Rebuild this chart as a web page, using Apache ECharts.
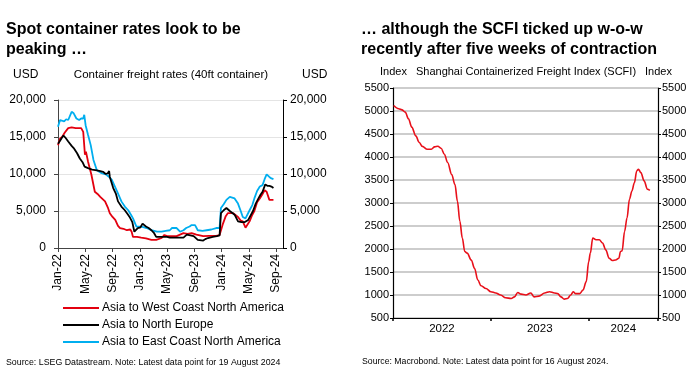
<!DOCTYPE html>
<html>
<head>
<meta charset="utf-8">
<script src="https://cdn.jsdelivr.net/npm/echarts@6/dist/echarts.min.js"></script>
<style>
html,body{margin:0;padding:0;background:#fff;}
#c{width:696px;height:390px;}
</style>
</head>
<body>
<div id="c"></div>
<script>
// ---------- DATA ----------
// Left chart: x = months since Jan 2022, y = USD per 40ft container
const dateTickLabels = ['Jan-22','May-22','Sep-22','Jan-23','May-23','Sep-23','Jan-24','May-24','Sep-24'];
const usdTicks = [0, 5000, 10000, 15000, 20000];
const seriesNames = ['Asia to West Coast North America','Asia to North Europe','Asia to East Coast North America'];

const westCoast = [[0,13900],[0.3,14800],[0.6,15000],[1.0,15600],[1.5,16200],[2.0,16300],[2.6,16200],[3.4,16200],[3.7,15700],[3.95,12600],[4.1,13000],[4.4,11700],[4.9,9900],[5.4,7600],[5.8,7300],[6.2,6900],[6.9,6300],[7.3,5500],[7.6,4700],[8.0,4200],[8.4,3800],[8.8,3000],[9.1,2700],[9.6,2600],[10.1,2400],[10.6,2500],[10.8,2200],[11.0,1500],[11.6,1500],[12.2,1400],[12.9,1300],[13.7,1100],[14.4,1100],[15.2,1350],[15.6,1760],[16.0,1600],[16.4,1600],[17.4,1600],[18.4,2000],[19.0,1900],[19.6,2000],[20.3,1800],[20.8,1700],[21.3,1600],[22.2,1650],[23.2,1650],[23.7,1750],[24.2,3300],[24.6,4300],[24.9,4700],[25.7,4700],[26.4,4200],[26.8,3700],[27.1,3600],[27.5,2750],[28.1,3600],[28.5,4500],[28.8,5000],[29.2,6200],[29.6,6700],[30.0,7300],[30.3,7800],[30.6,7600],[31.0,6500],[31.3,6500],[31.6,6500]];

const northEurope = [[0,14100],[0.3,14500],[0.5,14800],[0.8,15200],[1.1,14900],[1.5,14400],[2.0,13800],[2.3,13500],[2.8,12800],[3.2,12100],[3.6,11600],[3.9,11000],[4.4,10800],[5.0,10600],[5.7,10500],[6.2,10400],[6.6,10300],[7.0,10000],[7.3,10100],[7.5,10400],[7.6,9600],[8.1,8100],[8.5,7300],[8.8,6300],[9.3,5600],[9.8,5100],[10.2,4600],[10.5,4200],[10.9,3500],[11.2,2200],[11.7,2700],[12.1,2800],[12.4,3300],[12.6,3300],[12.9,2900],[13.3,2700],[13.7,2400],[14.1,2000],[14.4,1500],[15.2,1500],[16.0,1500],[16.4,1400],[17.5,1400],[18.4,1400],[18.9,1800],[19.9,1600],[20.5,1100],[21.3,1000],[21.6,1200],[22.0,1350],[22.7,1500],[23.3,1600],[23.7,1700],[23.9,4700],[24.3,5100],[24.7,5400],[25.2,5000],[25.9,4500],[26.4,3600],[26.9,3500],[27.4,3500],[27.9,3800],[28.6,5000],[29.0,6000],[29.4,6700],[29.7,7200],[30.0,7600],[30.4,8600],[30.7,8400],[31.0,8400],[31.3,8300],[31.6,8100]];

const eastCoast = [[0,16400],[0.3,17300],[0.5,17500],[0.9,17100],[1.2,17400],[1.5,17300],[2.0,18400],[2.3,18200],[2.5,18300],[2.7,17500],[3.1,17300],[3.4,17500],[3.7,17500],[3.85,18000],[4.05,16600],[4.4,15300],[4.8,13900],[5.2,11900],[5.7,10500],[6.4,10100],[7.1,9900],[7.5,9600],[7.9,9200],[8.6,7800],[9.3,6300],[9.8,5600],[10.3,5100],[10.7,4500],[11.0,4000],[11.5,2900],[12.25,2900],[13.0,2700],[13.7,2400],[14.5,2200],[15.2,2200],[15.8,2300],[16.4,2400],[16.7,2700],[17.4,2700],[17.9,2200],[18.4,2400],[18.8,2700],[19.3,2900],[19.6,3100],[20.1,3100],[20.5,2400],[21.2,2300],[21.8,2400],[22.5,2500],[23.2,2700],[23.7,2700],[23.9,5400],[24.3,5900],[24.7,6500],[25.2,6900],[25.9,6700],[26.4,6000],[26.8,5000],[27.1,4200],[27.5,4000],[28.1,5100],[28.5,5800],[28.8,6700],[29.2,7700],[29.6,8300],[30.0,8500],[30.3,9300],[30.6,9950],[31.0,9600],[31.3,9400],[31.6,9300]];

// Right chart: x = months since Jan 2022, y = SCFI index
const yearLabels = ['2022','2023','2024'];
const indexTicks = [500,1000,1500,2000,2500,3000,3500,4000,4500,5000,5500];
const scfi = [[0.08,5120],[0.7,5050],[1.1,5025],[1.5,4975],[1.9,4830],[2.3,4650],[2.8,4460],[3.2,4320],[3.6,4230],[4.2,4170],[4.7,4170],[5.1,4220],[5.5,4235],[5.9,4190],[6.3,4060],[6.7,3880],[7.2,3620],[7.6,3400],[7.9,3040],[8.2,2600],[8.5,2240],[8.8,1945],[9.1,1910],[9.6,1760],[10.0,1580],[10.4,1325],[10.8,1200],[11.4,1140],[12.0,1070],[12.6,1045],[13.2,1000],[13.8,940],[14.5,925],[14.9,960],[15.3,1055],[15.7,1020],[16.3,1000],[16.9,1045],[17.3,960],[17.9,975],[18.6,1045],[19.2,1070],[19.8,1045],[20.2,1030],[20.6,960],[21.0,910],[21.4,925],[21.8,1000],[22.1,1070],[22.4,1030],[22.9,1030],[23.3,1105],[23.7,1290],[24.0,1725],[24.2,1910],[24.5,2240],[24.9,2200],[25.3,2200],[25.7,2130],[26.1,1980],[26.5,1800],[26.9,1750],[27.3,1760],[27.7,1800],[27.9,1945],[28.1,1960],[28.4,2380],[28.7,2675],[29.0,3080],[29.3,3260],[29.6,3440],[29.9,3700],[30.1,3735],[30.4,3660],[30.8,3480],[31.2,3300],[31.5,3275]];

// ---------- CHART ----------
const FONT = '"Liberation Sans", Arial, sans-serif';
const dateTickValues = dateTickLabels.map((_, i) => i * 4);
const yearLabelValues = [6, 18, 28.25];
const yearTickValues = [0, 12, 24, 32.5];

function txt(x, y, text, size, opts) {
  opts = opts || {};
  return {
    type: 'text', x: x, y: y, silent: true,
    style: {
      text: text, fill: '#000', fontFamily: FONT, fontSize: size,
      fontWeight: opts.bold ? 'bold' : 'normal',
      align: opts.align || 'left', verticalAlign: 'middle'
    }
  };
}

const usdAxisCommon = {
  type: 'value', gridIndex: 0, min: usdTicks[0], max: usdTicks[usdTicks.length - 1], interval: 5000,
  axisLine: { show: true, lineStyle: { color: '#444', width: 1 } },
  axisTick: { show: true, inside: false, length: 4, lineStyle: { color: '#444' } },
  axisLabel: { color: '#000', fontFamily: FONT, fontSize: 12, formatter: v => v.toLocaleString('en-US') },
  splitLine: { show: false }
};
const idxAxisCommon = {
  type: 'value', gridIndex: 1, min: indexTicks[0], max: indexTicks[indexTicks.length - 1], interval: 500,
  axisLine: { show: true, lineStyle: { color: '#000', width: 1.2 } },
  axisTick: { show: true, inside: false, length: 3, lineStyle: { color: '#000' } },
  axisLabel: { color: '#000', fontFamily: FONT, fontSize: 11, margin: 4, formatter: v => String(v) },
  splitLine: { show: false }
};

const chart = echarts.init(document.getElementById('c'), null, { renderer: 'canvas' });
chart.setOption({
  animation: false,
  backgroundColor: '#fff',
  grid: [
    { left: 58, right: 413, top: 100, bottom: 142, containLabel: false },
    { left: 393, right: 38, top: 88, bottom: 72, containLabel: false }
  ],
  xAxis: [
    {
      type: 'value', gridIndex: 0, min: 0, max: 33,
      axisLine: { show: true, lineStyle: { color: '#444', width: 1 } },
      axisTick: { show: true, length: 4, customValues: dateTickValues, lineStyle: { color: '#444' } },
      axisLabel: {
        rotate: 90, margin: 6, color: '#000', fontFamily: FONT, fontSize: 12,
        customValues: dateTickValues,
        formatter: v => dateTickLabels[Math.round(v / 4)] || ''
      },
      splitLine: { show: false }
    },
    {
      type: 'value', gridIndex: 1, min: 0, max: 32.5,
      axisLine: { show: true, lineStyle: { color: '#000', width: 1.2 } },
      axisTick: { show: true, length: 3, customValues: yearTickValues, lineStyle: { color: '#000', width: 1.5 } },
      axisLabel: {
        margin: 5, color: '#000', fontFamily: FONT, fontSize: 11.5,
        customValues: yearLabelValues,
        formatter: v => yearLabels[yearLabelValues.indexOf(v)] || ''
      },
      splitLine: { show: false }
    }
  ],
  yAxis: [
    Object.assign({}, usdAxisCommon, {
      position: 'left',
      axisLabel: Object.assign({}, usdAxisCommon.axisLabel, { margin: 12 }),
      splitLine: { show: true, lineStyle: { color: '#e4e4e4', width: 1 } }
    }),
    Object.assign({}, usdAxisCommon, {
      position: 'right',
      axisLine: { show: true, lineStyle: { color: '#000', width: 1 } },
      axisTick: { show: true, length: 4, lineStyle: { color: '#000' } },
      axisLabel: Object.assign({}, usdAxisCommon.axisLabel, { margin: 7 })
    }),
    Object.assign({}, idxAxisCommon, {
      position: 'left',
      splitLine: { show: true, lineStyle: { color: '#bdbdbd', width: 1.5 } }
    }),
    Object.assign({}, idxAxisCommon, { position: 'right' })
  ],
  legend: {
    orient: 'vertical', left: 63, top: 301, padding: 0,
    icon: 'rect', itemWidth: 36, itemHeight: 2, itemGap: 3,
    data: seriesNames,
    textStyle: { color: '#000', fontFamily: FONT, fontSize: 12, lineHeight: 14, padding: [0, 0, 0, -2] }
  },
  series: [
    { name: seriesNames[0], type: 'line', xAxisIndex: 0, yAxisIndex: 0, data: westCoast, showSymbol: false, symbol: 'none',
      lineStyle: { color: '#e3000f', width: 1.8 }, itemStyle: { color: '#e3000f' }, z: 3 },
    { name: seriesNames[1], type: 'line', xAxisIndex: 0, yAxisIndex: 0, data: northEurope, showSymbol: false, symbol: 'none',
      lineStyle: { color: '#000000', width: 1.8 }, itemStyle: { color: '#000000' }, z: 4 },
    { name: seriesNames[2], type: 'line', xAxisIndex: 0, yAxisIndex: 0, data: eastCoast, showSymbol: false, symbol: 'none',
      lineStyle: { color: '#00aeef', width: 1.8 }, itemStyle: { color: '#00aeef' }, z: 2 },
    { name: 'SCFI', type: 'line', xAxisIndex: 1, yAxisIndex: 2, data: scfi, showSymbol: false, symbol: 'none',
      smooth: 0.35, smoothMonotone: 'x',
      lineStyle: { color: '#e8101a', width: 1.6 }, itemStyle: { color: '#e8101a' } }
  ],
  graphic: [
    txt(6, 29.5, 'Spot container rates look to be', 16, { bold: true }),
    txt(6, 49.5, 'peaking …', 16, { bold: true }),
    txt(361, 29.5, '… although the SCFI ticked up w-o-w', 16, { bold: true }),
    txt(361, 49.5, 'recently after five weeks of contraction', 16, { bold: true }),
    txt(13, 75, 'USD', 12),
    txt(171, 75, 'Container freight rates (40ft container)', 11.5, { align: 'center' }),
    txt(302, 75, 'USD', 12),
    txt(380, 72, 'Index', 11),
    txt(526, 72, 'Shanghai Containerized Freight Index (SCFI)', 11, { align: 'center' }),
    txt(645, 72, 'Index', 11),
    txt(6, 363, 'Source: LSEG Datastream. Note: Latest data point for 19 August 2024', 8.8),
    txt(362, 362, 'Source: Macrobond. Note: Latest data point for 16 August 2024.', 8.7)
  ]
});
</script>
</body>
</html>
